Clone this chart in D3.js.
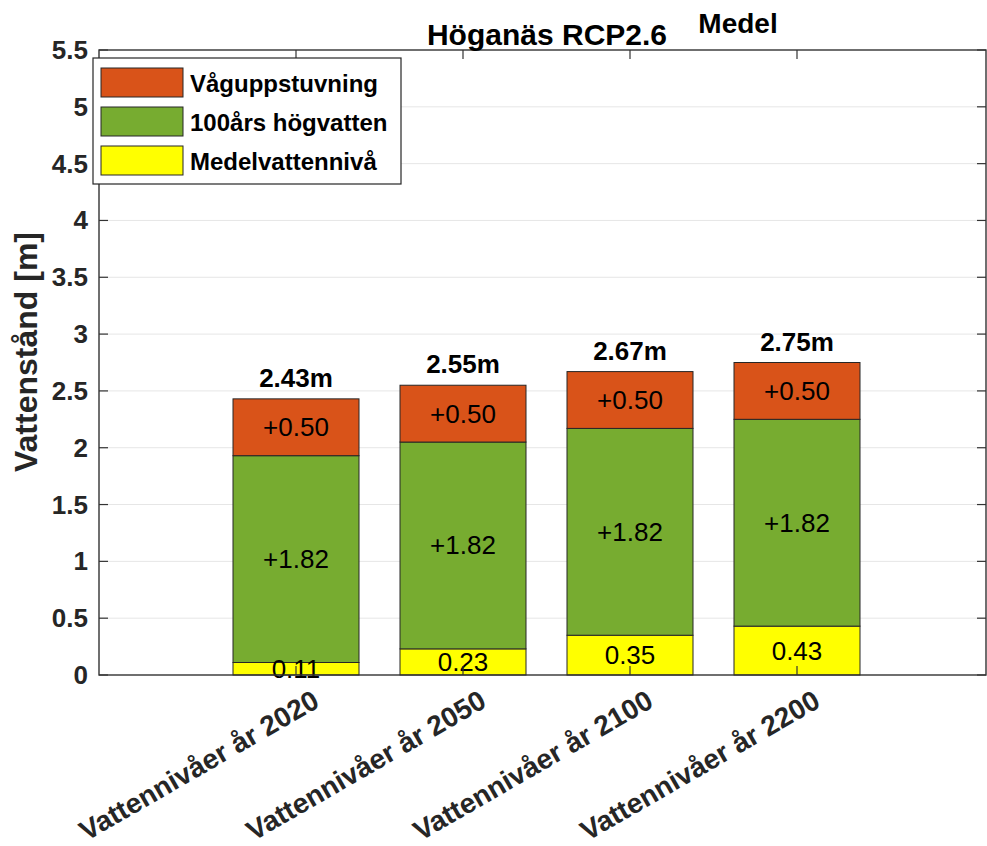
<!DOCTYPE html>
<html lang="sv">
<head>
<meta charset="UTF-8">
<title>Höganäs RCP2.6</title>
<script src="https://cdn.jsdelivr.net/npm/d3@7"></script>
<style>
  body { margin: 0; background: #fff; }
  svg { font-family: "Liberation Sans", Arial, sans-serif; }
  .grid line { stroke: #e6e6e6; stroke-width: 1; }
  .axisline { stroke: #333; stroke-width: 1.4; fill: none; }
  .tick-mark { stroke: #333; stroke-width: 1.2; }
  .ytick { font-size: 26px; font-weight: bold; fill: #262626; }
  .xtick { font-size: 28px; font-weight: bold; fill: #262626; }
  .seg { stroke: #262626; stroke-width: 1; }
  .seglabel { font-size: 26px; fill: #000; }
  .total { font-size: 26px; font-weight: bold; fill: #000; }
</style>
</head>
<body>
<svg id="chart" width="987" height="846"></svg>
<script>
// data
var categories = ["Vattennivåer år 2020", "Vattennivåer år 2050", "Vattennivåer år 2100", "Vattennivåer år 2200"];
var medelvatten = [0.11, 0.23, 0.35, 0.43];
var hogvatten = [1.82, 1.82, 1.82, 1.82];
var vaguppstuvning = [0.50, 0.50, 0.50, 0.50];
var seriesNames = ["Medelvattennivå", "100års högvatten", "Våguppstuvning"];
var seriesColors = ["#FFFF00", "#77AC30", "#D95319"];
var yTicks = [0, 0.5, 1, 1.5, 2, 2.5, 3, 3.5, 4, 4.5, 5, 5.5];

(function () {
var svg = d3.select("#chart");

var pl = 99, pr = 986, pt = 50, pb = 675;

var x = d3.scaleLinear().domain([1, 4]).range([296, 797]);
var y = d3.scaleLinear().domain([0, 5.5]).range([pb, pt]);
var barW = 126;

// rows for stacking
var rows = categories.map(function (c, i) {
  return { cat: c, m: medelvatten[i], h: hogvatten[i], v: vaguppstuvning[i] };
});
var layers = d3.stack().keys(["m", "h", "v"])(rows);

// grid
svg.append("g").attr("class", "grid")
  .selectAll("line").data(yTicks.slice(1, -1)).enter().append("line")
  .attr("x1", pl).attr("x2", pr)
  .attr("y1", function (d) { return y(d); })
  .attr("y2", function (d) { return y(d); });

// bars
var g = svg.append("g");
layers.forEach(function (layer, k) {
  g.selectAll(".s" + k).data(layer).enter().append("rect")
    .attr("class", "seg s" + k)
    .attr("x", function (d, i) { return x(i + 1) - barW / 2; })
    .attr("y", function (d) { return y(d[1]); })
    .attr("width", barW)
    .attr("height", function (d) { return y(d[0]) - y(d[1]); })
    .attr("fill", seriesColors[k]);
});

// segment labels
layers.forEach(function (layer, k) {
  g.selectAll(".l" + k).data(layer).enter().append("text")
    .attr("class", "seglabel l" + k)
    .attr("text-anchor", "middle")
    .attr("dominant-baseline", "central")
    .attr("x", function (d, i) { return x(i + 1); })
    .attr("y", function (d) { return y((d[0] + d[1]) / 2); })
    .text(function (d) {
      var v = d[1] - d[0];
      return (k === 0 ? "" : "+") + v.toFixed(2);
    });
});

// totals
g.selectAll(".total").data(layers[2]).enter().append("text")
  .attr("class", "total")
  .attr("text-anchor", "middle")
  .attr("x", function (d, i) { return x(i + 1); })
  .attr("y", function (d) { return y(d[1]) - 12; })
  .text(function (d) { return d[1].toFixed(2) + "m"; });

// axes box
svg.append("rect").attr("class", "axisline")
  .attr("x", pl).attr("y", pt)
  .attr("width", pr - pl).attr("height", pb - pt);

var tl = 9;
var ax = svg.append("g");
yTicks.forEach(function (t) {
  ax.append("line").attr("class", "tick-mark")
    .attr("x1", pl).attr("x2", pl + tl).attr("y1", y(t)).attr("y2", y(t));
  ax.append("line").attr("class", "tick-mark")
    .attr("x1", pr).attr("x2", pr - tl).attr("y1", y(t)).attr("y2", y(t));
  ax.append("text").attr("class", "ytick")
    .attr("x", 88).attr("y", y(t))
    .attr("text-anchor", "end").attr("dominant-baseline", "central")
    .text(d3.format("")(t));
});
categories.forEach(function (c, i) {
  var px = x(i + 1);
  ax.append("line").attr("class", "tick-mark")
    .attr("x1", px).attr("x2", px).attr("y1", pb).attr("y2", pb - tl);
  ax.append("line").attr("class", "tick-mark")
    .attr("x1", px).attr("x2", px).attr("y1", pt).attr("y2", pt + tl);
  ax.append("text").attr("class", "xtick")
    .attr("text-anchor", "end")
    .attr("transform", "translate(" + (px + 25) + "," + 706 + ") rotate(-30)")
    .text(c);
});

// y label
svg.append("text")
  .attr("transform", "translate(37,352) rotate(-90)")
  .attr("text-anchor", "middle")
  .style("font-size", "32px").style("font-weight", "bold").style("fill", "#262626")
  .text("Vattenstånd [m]");

// titles
svg.append("text").attr("x", 547).attr("y", 45)
  .attr("text-anchor", "middle")
  .style("font-size", "30px").style("font-weight", "bold")
  .text("Höganäs RCP2.6");
svg.append("text").attr("x", 738).attr("y", 33)
  .attr("text-anchor", "middle")
  .style("font-size", "28px").style("font-weight", "bold")
  .text("Medel");

// legend (top entry = last stacked series)
var lg = svg.append("g");
lg.append("rect").attr("x", 93).attr("y", 58).attr("width", 308).attr("height", 126)
  .attr("fill", "#fff").attr("stroke", "#262626").attr("stroke-width", 1.2);
[2, 1, 0].forEach(function (k, j) {
  var ly = 68 + j * 39;
  lg.append("rect").attr("x", 101).attr("y", ly).attr("width", 82).attr("height", 29)
    .attr("fill", seriesColors[k]).attr("stroke", "#262626").attr("stroke-width", 1);
  lg.append("text").attr("x", 190).attr("y", ly + 15)
    .attr("dominant-baseline", "central")
    .style("font-size", "24px").style("font-weight", "bold")
    .text(seriesNames[k]);
});
})();
</script>
</body>
</html>
